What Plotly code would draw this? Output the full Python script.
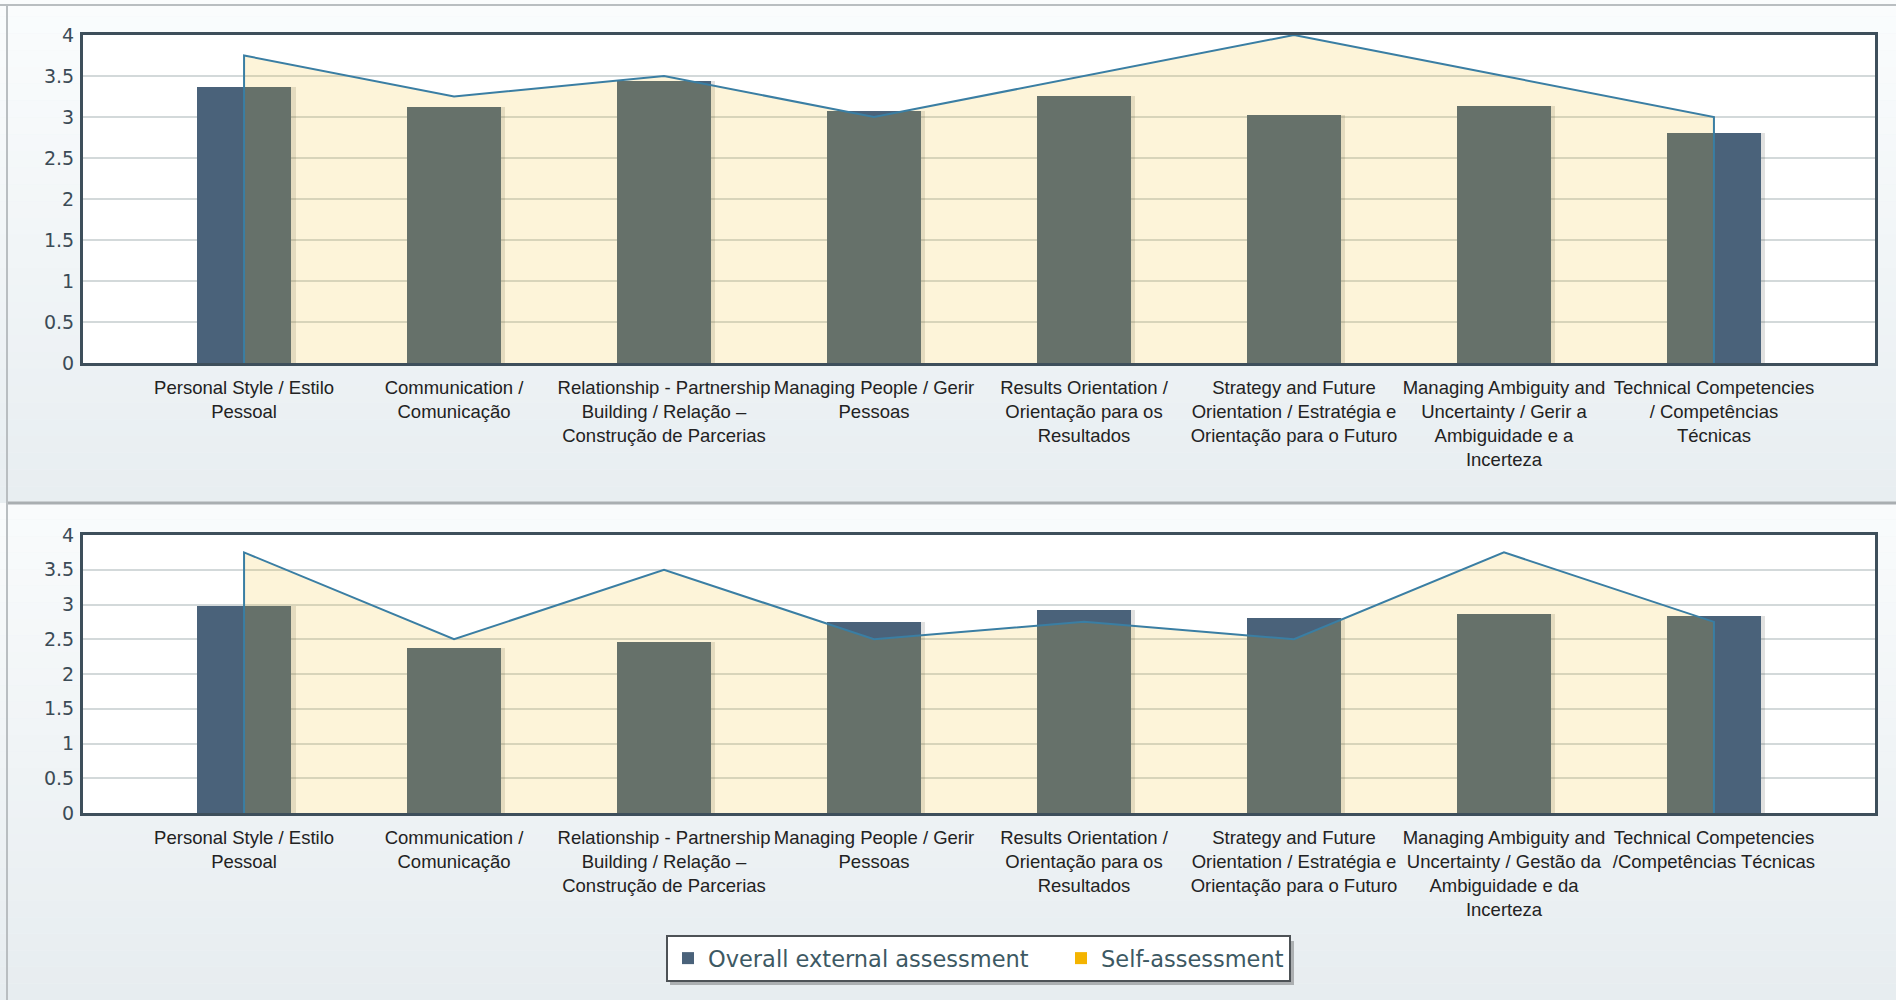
import plotly.graph_objects as go

# Competency labels (x axis) for each panel
categories_top = [
    "Personal Style / Estilo<br>Pessoal",
    "Communication /<br>Comunicação",
    "Relationship - Partnership<br>Building / Relação –<br>Construção de Parcerias",
    "Managing People / Gerir<br>Pessoas",
    "Results Orientation /<br>Orientação para os<br>Resultados",
    "Strategy and Future<br>Orientation / Estratégia e<br>Orientação para o Futuro",
    "Managing Ambiguity and<br>Uncertainty / Gerir a<br>Ambiguidade e a<br>Incerteza",
    "Technical Competencies<br>/ Competências<br>Técnicas",
]
categories_bottom = [
    "Personal Style / Estilo<br>Pessoal",
    "Communication /<br>Comunicação",
    "Relationship - Partnership<br>Building / Relação –<br>Construção de Parcerias",
    "Managing People / Gerir<br>Pessoas",
    "Results Orientation /<br>Orientação para os<br>Resultados",
    "Strategy and Future<br>Orientation / Estratégia e<br>Orientação para o Futuro",
    "Managing Ambiguity and<br>Uncertainty / Gestão da<br>Ambiguidade e da<br>Incerteza",
    "Technical Competencies<br>/Competências Técnicas",
]

# Scores
external_top = [3.36, 3.12, 3.44, 3.07, 3.26, 3.02, 3.14, 2.80]
self_top = [3.75, 3.25, 3.5, 3.0, 3.5, 4.0, 3.5, 3.0]
external_bottom = [2.98, 2.38, 2.46, 2.75, 2.92, 2.81, 2.86, 2.84]
self_bottom = [3.75, 2.5, 3.5, 2.5, 2.75, 2.5, 3.75, 2.75]

y_tick_values = [0, 0.5, 1, 1.5, 2, 2.5, 3, 3.5, 4]
y_tick_labels = ["0", "0.5", "1", "1.5", "2", "2.5", "3", "3.5", "4"]

series_names = ["Overall external assessment", "Self-assessment"]

W, H = 1896, 1000
BAR_COLOR = "#4a627a"
SELF_COLOR = "#f4b400"
AREA_FILL = "rgba(243,188,31,0.17)"
LINE_COLOR = "#3a7ea3"
FRAME = "#3e4f5b"


def px_x(x):
    return x / W


def px_y(y):
    return 1 - y / H


# plot rectangles in pixels: (left, top, right, bottom)
plots = {
    "top": (83, 35, 1875, 363),
    "bottom": (83, 535, 1875, 813),
}

fig = go.Figure()


def add_panel(cats, ext, selfv, xa, ya, legend):
    # soft shadow to the right of each bar
    fig.add_trace(go.Bar(
        x=cats, y=ext, width=0.45, offset=-0.205,
        marker=dict(color="rgba(70,70,60,0.16)", line=dict(width=0)),
        xaxis=xa, yaxis=ya, showlegend=False, hoverinfo="skip",
    ))
    fig.add_trace(go.Bar(
        x=cats, y=ext, width=0.45, offset=-0.225,
        marker=dict(color=BAR_COLOR, line=dict(width=0)),
        name=series_names[0], legendrank=1, legendwidth=348,
        xaxis=xa, yaxis=ya, showlegend=legend,
    ))
    # self-assessment area, closed down to the baseline at both ends
    fig.add_trace(go.Scatter(
        x=[cats[0]] + cats + [cats[-1]],
        y=[0] + selfv + [0],
        mode="lines", fill="toself", fillcolor=AREA_FILL,
        line=dict(color=LINE_COLOR, width=2),
        xaxis=xa, yaxis=ya, showlegend=False,
    ))


add_panel(categories_top, external_top, self_top, "x", "y", True)
add_panel(categories_bottom, external_bottom, self_bottom, "x2", "y2", False)

# legend swatch for the self-assessment series
fig.add_trace(go.Bar(
    x=[None], y=[None], marker=dict(color=SELF_COLOR, line=dict(width=0)),
    name=series_names[1], legendrank=2, xaxis="x2", yaxis="y2",
))

xaxis_style = dict(
    type="category", range=[-0.767, 7.767],
    showline=True, mirror=True, linecolor=FRAME, linewidth=3,
    showgrid=False, zeroline=False, ticks="", ticklabelstandoff=6,
    tickfont=dict(family="Liberation Sans, Arial, sans-serif", size=18.5, color="#222222"),
    automargin=False, fixedrange=True,
)
yaxis_style = dict(
    range=[0, 4], tickvals=y_tick_values, ticktext=y_tick_labels,
    showline=True, mirror=True, linecolor=FRAME, linewidth=3,
    showgrid=True, gridcolor="#d3d9da", gridwidth=1.5, zeroline=False,
    ticks="", ticklabelstandoff=2,
    tickfont=dict(family="DejaVu Sans, Verdana, sans-serif", size=19, color="#3b4b56"),
    automargin=False, fixedrange=True,
)

t = plots["top"]
b = plots["bottom"]
fig.update_layout(
    xaxis=dict(domain=[px_x(t[0]), px_x(t[2])], anchor="y", **xaxis_style),
    yaxis=dict(domain=[px_y(t[3]), px_y(t[1])], anchor="x", **yaxis_style),
    xaxis2=dict(domain=[px_x(b[0]), px_x(b[2])], anchor="y2", **xaxis_style),
    yaxis2=dict(domain=[px_y(b[3]), px_y(b[1])], anchor="x2", **yaxis_style),
)

# panel backgrounds: vertical gradient bands
shapes = []


def gradient(y0, y1, c0, c1, n=30):
    for i in range(n):
        f = i / (n - 1)
        col = tuple(round(c0[k] + (c1[k] - c0[k]) * f) for k in range(3))
        ya = y0 + (y1 - y0) * i / n
        yb = y0 + (y1 - y0) * (i + 1) / n
        shapes.append(dict(
            type="rect", xref="paper", yref="paper", layer="below",
            x0=0, x1=1, y0=px_y(yb), y1=px_y(ya),
            fillcolor="rgb(%d,%d,%d)" % col, line=dict(width=0),
        ))


gradient(0, 503, (250, 252, 253), (232, 238, 241))
gradient(503, 1000, (249, 251, 252), (231, 237, 240))

# white plotting areas on top of the panel gradient
for (l, tp, r, bt) in plots.values():
    shapes.append(dict(
        type="rect", xref="paper", yref="paper", layer="below",
        x0=px_x(l), x1=px_x(r), y0=px_y(bt), y1=px_y(tp),
        fillcolor="white", line=dict(width=0),
    ))

# panel rules
shapes.append(dict(type="line", xref="paper", yref="paper", layer="below",
                   x0=0, x1=1, y0=px_y(5), y1=px_y(5),
                   line=dict(color="#b9bec1", width=2)))
shapes.append(dict(type="line", xref="paper", yref="paper", layer="below",
                   x0=px_x(7), x1=1, y0=px_y(503), y1=px_y(503),
                   line=dict(color="#a9aeb1", width=3)))
shapes.append(dict(type="line", xref="paper", yref="paper", layer="below",
                   x0=px_x(7), x1=px_x(7), y0=0, y1=px_y(5),
                   line=dict(color="#b9bec1", width=2)))

# legend drop shadow
shapes.append(dict(type="rect", xref="paper", yref="paper", layer="above",
                   x0=px_x(670), x1=px_x(1294), y0=px_y(985), y1=px_y(941),
                   fillcolor="rgba(60,60,60,0.35)", line=dict(width=0)))

fig.update_layout(
    width=W, height=H,
    margin=dict(l=0, r=0, t=0, b=0),
    paper_bgcolor="#eef3f6", plot_bgcolor="white",
    barmode="overlay", bargap=0,
    shapes=shapes,
    showlegend=True,
    legend=dict(
        orientation="h", x=px_x(666), y=px_y(935), xanchor="left", yanchor="top",
        bgcolor="white", bordercolor="#4d5256", borderwidth=2,
        font=dict(family="DejaVu Sans, Verdana, sans-serif", size=22.5, color="#3d5963"),
        itemsizing="constant", traceorder="normal",
    ),
    hovermode=False,
)

fig.write_html("out.html")
